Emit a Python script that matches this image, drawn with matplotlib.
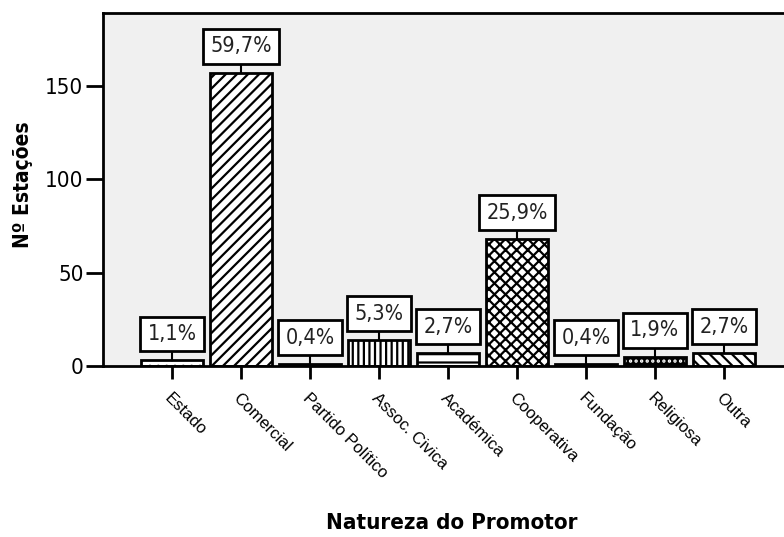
import matplotlib
matplotlib.use("Agg")
import matplotlib.pyplot as plt
from matplotlib import font_manager as fm

categories = ["Estado", "Comercial", "Partido Político", "Assoc. Civica", "Académica",
              "Cooperativa", "Fundação", "Religiosa", "Outra"]
counts = [3, 157, 1, 14, 7, 68, 1, 5, 7]
pct_labels = ["1,1%", "59,7%", "0,4%", "5,3%", "2,7%", "25,9%", "0,4%", "1,9%", "2,7%"]
hatches = ["..", "///", "", "|||", "--", "xxx", "", "", "\\\\\\"]
faces = ["white", "white", "black", "white", "white", "white", "black", "black", "white"]
yticks = [0, 50, 100, 150]

# look for a narrow sans font (Arial Narrow look-alike); fall back to Liberation Sans
narrow_reg = None
narrow_bold = None
for f in fm.fontManager.ttflist:
    nm = f.name.lower()
    is_narrow = ("narrow" in nm or "condensed" in nm or f.stretch in ("condensed", "semi-condensed"))
    if not is_narrow or "mono" in nm or ("serif" in nm and "sans" not in nm):
        continue
    if f.style != "normal":
        continue
    w = f.weight if isinstance(f.weight, int) else (700 if f.weight == "bold" else 400)
    if w == 400 and narrow_reg is None:
        narrow_reg = f.fname
    if w == 700 and narrow_bold is None:
        narrow_bold = f.fname

NUM_SIZE = 15.5
if narrow_reg:
    num_fp = dict(fontproperties=fm.FontProperties(fname=narrow_reg, size=NUM_SIZE))
else:
    num_fp = dict(fontsize=NUM_SIZE, family=["Liberation Sans", "DejaVu Sans"])
if narrow_bold:
    ylab_kw = dict(fontproperties=fm.FontProperties(fname=narrow_bold, size=15))
    xlab_kw = dict(fontproperties=fm.FontProperties(fname=narrow_bold, size=16))
else:
    ylab_kw = dict(fontsize=16, fontweight="bold", family=["Liberation Sans", "DejaVu Sans"])
    xlab_kw = dict(fontsize=16, fontweight="bold", family=["Liberation Sans", "DejaVu Sans"])

plt.rcParams["hatch.linewidth"] = 1.6
plt.rcParams["font.family"] = ["Liberation Sans", "DejaVu Sans"]

fig = plt.figure(figsize=(7.84, 5.37), dpi=100)
ax = fig.add_axes([103/784, (537-366)/537, 1 - 103/784, (366-13)/537])
ax.set_facecolor("#f0f0f0")

x = list(range(len(categories)))
for i in x:
    if categories[i] == "Religiosa":
        ax.bar(i, counts[i], width=0.89, facecolor="black", edgecolor="white",
               hatch="...", linewidth=0, zorder=2)
        ax.bar(i, counts[i], width=0.89, facecolor="none", edgecolor="black",
               linewidth=2, zorder=3)
    else:
        ax.bar(i, counts[i], width=0.89, facecolor=faces[i], edgecolor="black",
               hatch=hatches[i], linewidth=2, zorder=2)

PAD = 0.34
pad_px = PAD * NUM_SIZE * 100 / 72
for i in x:
    ax.annotate(pct_labels[i], xy=(i, counts[i]), xytext=(0, 9 + pad_px), textcoords="offset pixels",
                ha="center", va="bottom", color="#222222",
                bbox=dict(boxstyle=f"square,pad={PAD}", facecolor="white", edgecolor="black", linewidth=2),
                arrowprops=dict(arrowstyle="-", color="black", linewidth=1.5, shrinkA=0, shrinkB=0),
                zorder=5, **num_fp)

ax.set_xlim(-1, (784 - 103) / 69 - 1)
ax.set_ylim(0, 189)
ax.set_yticks(yticks)
ytl = ax.set_yticklabels([str(v) for v in yticks])
for t in ytl:
    if narrow_reg:
        t.set_fontproperties(fm.FontProperties(fname=narrow_reg, size=16))
    else:
        t.set_fontsize(16)
ax.set_xticks(x)
ax.set_xticklabels(categories, rotation=-45, ha="left", va="top", rotation_mode="anchor",
                   fontsize=12)
ax.tick_params(axis="y", length=12, width=2, direction="out", colors="black", pad=2)
ax.tick_params(axis="x", length=9.5, width=2, direction="out", colors="black", pad=8)
for s in ["left", "top", "bottom"]:
    ax.spines[s].set_linewidth(2)
ax.spines["right"].set_visible(False)

ax.set_ylabel("Nº Estações", **ylab_kw)
ax.yaxis.set_label_coords((33 - 103) / 681, (366 - 185) / 353)
fig.text(452 / 784, 1 - 523 / 537, "Natureza do Promotor", ha="center", va="center", **xlab_kw)

fig.savefig("out.png", dpi=100)
